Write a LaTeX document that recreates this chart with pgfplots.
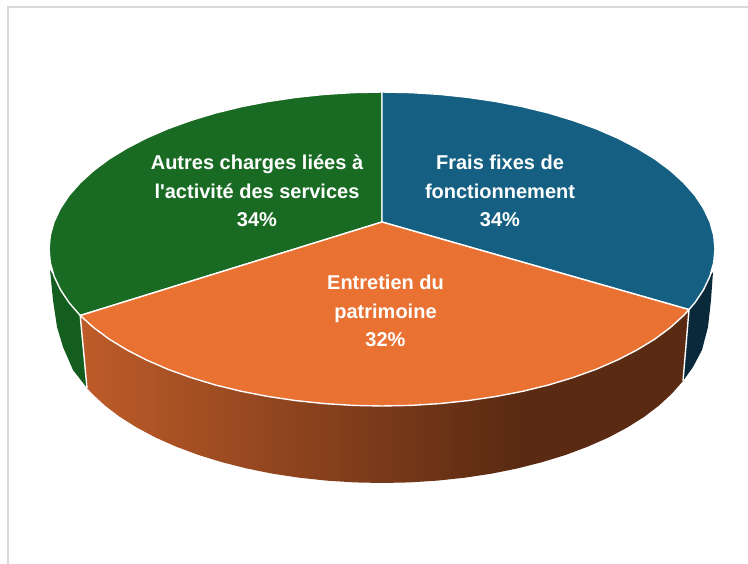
\documentclass[border=0pt]{standalone}
\usepackage{fontspec}
\defaultfontfeatures{}
\newfontfamily\lab{Liberation Sans}[Mapping=none]
\usepackage{pgfplots}
\pgfplotsset{compat=1.18}
\definecolor{cblue}{HTML}{156082}
\definecolor{corange}{HTML}{E97132}
\definecolor{cgreen}{HTML}{196B24}
\definecolor{sgreen}{HTML}{135E1F}
\definecolor{sblue}{HTML}{0A2A3B}
\definecolor{frame}{HTML}{D9D9D9}
\definecolor{sorangeL}{HTML}{BE5C29}
\definecolor{sorangeR}{HTML}{5A2A12}
\pgfdeclarehorizontalshading{sideorange}{100bp}{
  color(0bp)=(sorangeL); color(25bp)=(sorangeL); color(61bp)=(sorangeR); color(100bp)=(sorangeR)}
\begin{document}
\begin{tikzpicture}
\useasboundingbox (0,0) rectangle (748pt,564pt);
\begin{axis}[
  at={(0,0)}, anchor=south west,
  scale only axis, width=748pt, height=564pt,
  xmin=0, xmax=748, ymin=0, ymax=564, y dir=reverse,
  hide axis, no markers, clip=false,
]
% chart frame
\addplot[frame, line width=1.7pt] coordinates {(8,564) (8,7) (748,7)};
% side walls
\addplot[fill=sgreen, draw=none] coordinates {(50,270) (54.1,276.3) (60.4,289.6) (69.1,302.7) (80.2,315.5) (87,388) (73,370) (63,347) (57,327) (53,300)} -- cycle;
\addplot[fill=sblue, draw=none] coordinates {(713,272) (709.9,276.3) (703.6,289.6) (694.9,302.7) (689,309.6) (683,381) (693,367) (702,350) (708,327) (711,300)} -- cycle;
\addplot[shading=sideorange, draw=none] coordinates {(80.2,315.5) (93.6,327.5) (109.2,339.1) (126.9,349.9) (146.5,360) (167.9,369.3) (191,377.6) (215.5,385) (241.3,391.3) (268.1,396.5) (295.8,400.6) (324.2,403.6) (353,405.4) (382,406) (411,405.4) (439.8,403.6) (468.2,400.6) (495.9,396.5) (522.7,391.3) (548.5,385) (573,377.6) (596.1,369.3) (617.5,360) (637.1,349.9) (654.8,339.1) (670.4,327.5) (683.8,315.3) (689,309.6)
  (683,381) (672,393.5) (659.1,405.5) (644.1,416.9) (627.1,427.6) (608.3,437.6) (587.7,446.7) (565.5,455) (542,462.2) (517.2,468.5) (491.4,473.7) (464.8,477.7) (437.6,480.6) (409.9,482.4) (382,483) (354.1,482.4) (326.4,480.6) (299.2,477.7) (272.6,473.7) (246.8,468.5) (222,462.2) (198.5,455) (176.3,446.7) (155.7,437.6) (136.9,427.6) (119.9,416.9) (104.9,405.5) (92,393.5) (87,388)} -- cycle;
\addplot[white, line width=1.4pt] coordinates {(80.2,315.5) (87,388)};
\addplot[white, line width=1.4pt] coordinates {(689,309.6) (683,381)};
% top faces
\addplot[fill=cgreen, draw=white, line width=1.4pt, line join=round] coordinates {(382,222) (80.2,315.5) (69.1,302.7) (60.4,289.6) (54.1,276.3) (50.3,262.7) (49,249) (50.3,235.3) (54.1,221.7) (60.4,208.4) (69.1,195.3) (80.2,182.7) (93.6,170.5) (109.2,158.9) (126.9,148.1) (146.5,138) (167.9,128.7) (191,120.4) (215.5,113) (241.3,106.7) (268.1,101.5) (295.8,97.4) (324.2,94.4) (353,92.6) (382,92)} -- cycle;
\addplot[fill=cblue, draw=white, line width=1.4pt, line join=round] coordinates {(382,222) (382,92) (411,92.6) (439.8,94.4) (468.2,97.4) (495.9,101.5) (522.7,106.7) (548.5,113) (573,120.4) (596.1,128.7) (617.5,138) (637.1,148.1) (654.8,158.9) (670.4,170.5) (683.8,182.7) (694.9,195.3) (703.6,208.4) (709.9,221.7) (713.7,235.3) (715,249) (713.7,262.7) (709.9,276.3) (703.6,289.6) (694.9,302.7) (689,309.6)} -- cycle;
\addplot[fill=corange, draw=white, line width=1.4pt, line join=round] coordinates {(382,222) (689,309.6) (683.8,315.3) (670.4,327.5) (654.8,339.1) (637.1,349.9) (617.5,360) (596.1,369.3) (573,377.6) (548.5,385) (522.7,391.3) (495.9,396.5) (468.2,400.6) (439.8,403.6) (411,405.4) (382,406) (353,405.4) (324.2,403.6) (295.8,400.6) (268.1,396.5) (241.3,391.3) (215.5,385) (191,377.6) (167.9,369.3) (146.5,360) (126.9,349.9) (109.2,339.1) (93.6,327.5) (80.2,315.5)} -- cycle;
% labels
\node[white, font=\fontsize{20}{28.5}\selectfont\lab\bfseries, align=center] at (axis cs:257,191) {Autres charges liées à\\l'activité des services\\34\%};
\node[white, font=\fontsize{20}{28.5}\selectfont\lab\bfseries, align=center] at (axis cs:500,191) {Frais fixes de\\fonctionnement\\34\%};
\node[white, font=\fontsize{20}{28.5}\selectfont\lab\bfseries, align=center] at (axis cs:385.5,311) {Entretien du\\patrimoine\\32\%};
\end{axis}
\end{tikzpicture}
\end{document}
